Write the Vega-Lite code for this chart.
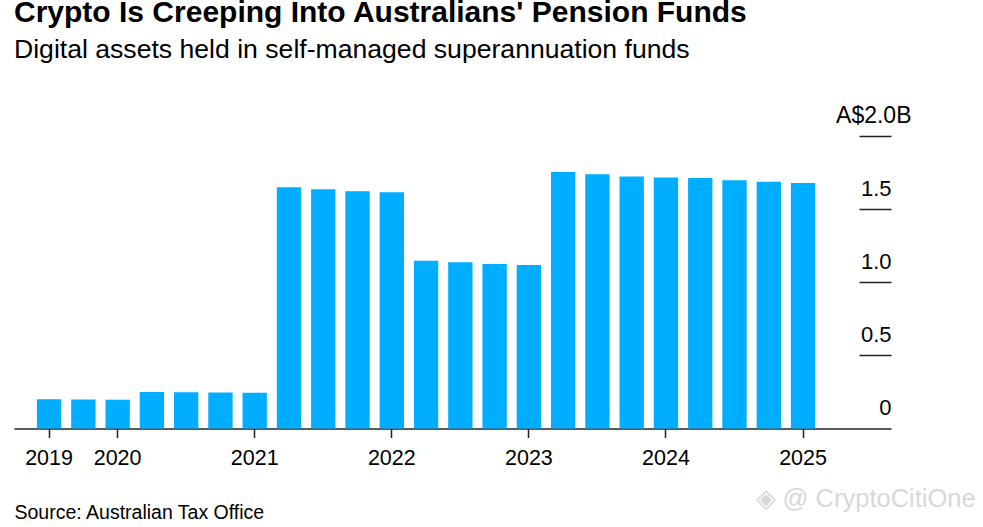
{
  "$schema": "https://vega.github.io/schema/vega-lite/v6.json",
  "autosize": "none",
  "padding": {"left": 14, "top": 136, "right": 92, "bottom": 99},
  "width": 877,
  "height": 292.5,
  "title": {
    "text": "Crypto Is Creeping Into Australians' Pension Funds",
    "subtitle": "Digital assets held in self-managed superannuation funds",
    "anchor": "start",
    "frame": "group",
    "font": "Liberation Sans",
    "fontSize": 30,
    "fontWeight": "bold",
    "color": "#000000",
    "subtitleFont": "Liberation Sans",
    "subtitleFontSize": 26.6,
    "subtitleColor": "#000000",
    "subtitlePadding": 9,
    "offset": 40
  },
  "data": {
    "values": [
      {"quarter": "2019-Q3", "value": 0.2},
      {"quarter": "2019-Q4", "value": 0.198},
      {"quarter": "2020-Q1", "value": 0.197},
      {"quarter": "2020-Q2", "value": 0.25},
      {"quarter": "2020-Q3", "value": 0.248},
      {"quarter": "2020-Q4", "value": 0.247},
      {"quarter": "2021-Q1", "value": 0.245},
      {"quarter": "2021-Q2", "value": 1.65},
      {"quarter": "2021-Q3", "value": 1.636},
      {"quarter": "2021-Q4", "value": 1.623},
      {"quarter": "2022-Q1", "value": 1.616},
      {"quarter": "2022-Q2", "value": 1.147},
      {"quarter": "2022-Q3", "value": 1.136},
      {"quarter": "2022-Q4", "value": 1.124},
      {"quarter": "2023-Q1", "value": 1.118},
      {"quarter": "2023-Q2", "value": 1.753},
      {"quarter": "2023-Q3", "value": 1.739},
      {"quarter": "2023-Q4", "value": 1.723},
      {"quarter": "2024-Q1", "value": 1.716},
      {"quarter": "2024-Q2", "value": 1.712},
      {"quarter": "2024-Q3", "value": 1.697},
      {"quarter": "2024-Q4", "value": 1.687},
      {"quarter": "2025-Q1", "value": 1.678}
    ]
  },
  "mark": {"type": "bar", "color": "#00ADFF"},
  "encoding": {
    "x": {
      "field": "quarter",
      "type": "ordinal",
      "sort": null,
      "scale": {
        "domain": ["2019-Q3", "2019-Q4", "2020-Q1", "2020-Q2", "2020-Q3", "2020-Q4", "2021-Q1", "2021-Q2", "2021-Q3", "2021-Q4", "2022-Q1", "2022-Q2", "2022-Q3", "2022-Q4", "2023-Q1", "2023-Q2", "2023-Q3", "2023-Q4", "2024-Q1", "2024-Q2", "2024-Q3", "2024-Q4", "2025-Q1", "2025-Q2", "2025-Q3"],
        "paddingInner": 0.29,
        "paddingOuter": 0.44,
        "align": 0.76
      },
      "axis": {
        "values": ["2019-Q3", "2020-Q1", "2021-Q1", "2022-Q1", "2023-Q1", "2024-Q1", "2025-Q1"],
        "labelExpr": "slice(datum.value, 0, 4)",
        "labelAngle": 0,
        "labelFont": "Liberation Sans",
        "labelFontSize": 21.5,
        "labelColor": "#000000",
        "labelPadding": 10,
        "domainColor": "#222222",
        "domainWidth": 1.5,
        "tickColor": "#222222",
        "tickWidth": 1.5,
        "tickSize": 9,
        "title": "Source: Australian Tax Office",
        "titleFont": "Liberation Sans",
        "titleFontSize": 19.5,
        "titleFontWeight": "normal",
        "titleColor": "#000000",
        "titleAnchor": "start",
        "titleAlign": "left",
        "titleBaseline": "alphabetic",
        "titleX": 0,
        "titleY": 90
      }
    },
    "y": {
      "field": "value",
      "type": "quantitative",
      "scale": {"domain": [0, 2]},
      "axis": {
        "orient": "right",
        "values": [0, 0.5, 1, 1.5, 2],
        "labelExpr": "datum.value == 2 ? 'A$2.0B' : datum.value == 0 ? '0' : format(datum.value, '.1f')",
        "labelFont": "Liberation Sans",
        "labelFontSize": {"condition": {"test": "datum.value == 2", "value": 23}, "value": 22},
        "labelColor": "#000000",
        "labelAlign": "right",
        "labelBaseline": "alphabetic",
        "labelOffset": -14,
        "labelPadding": {"condition": {"test": "datum.value == 2", "value": 52}, "value": 32},
        "tickSize": -32,
        "tickColor": "#222222",
        "tickWidth": 1.5,
        "tickOpacity": {"condition": {"test": "datum.value == 0", "value": 0}, "value": 1},
        "domain": false,
        "grid": false,
        "title": "◈ @ CryptoCitiOne",
        "titleFont": "Liberation Sans",
        "titleFontSize": 25.5,
        "titleFontWeight": "normal",
        "titleColor": "#d8d8d8",
        "titleAngle": 0,
        "titleAlign": "left",
        "titleBaseline": "middle",
        "titleX": -136,
        "titleY": 362
      }
    }
  },
  "config": {"view": {"stroke": null}}
}
